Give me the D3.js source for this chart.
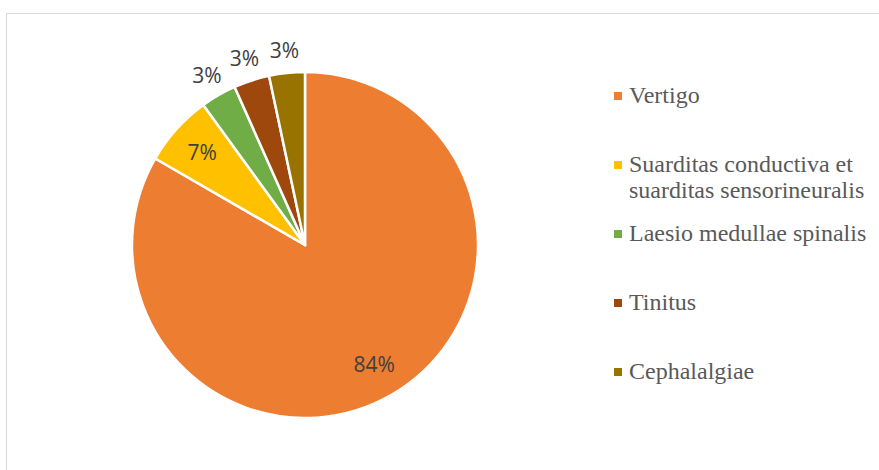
<!DOCTYPE html>
<html>
<head>
<meta charset="utf-8">
<script src="https://cdn.jsdelivr.net/npm/d3@7"></script>
<style>
  body { margin: 0; background: #fff; }
  svg { display: block; }
</style>
</head>
<body>
<svg id="chart" width="879" height="470"></svg>
<script>
// data
const categories = [
  'Vertigo',
  'Suarditas conductiva et suarditas sensorineuralis',
  'Laesio medullae spinalis',
  'Tinitus',
  'Cephalalgiae'
];
const values = [25, 2, 1, 1, 1];
const pctLabels = ['84%', '7%', '3%', '3%', '3%'];
const legendLines = [
  ['Vertigo'],
  ['Suarditas conductiva et', 'suarditas sensorineuralis'],
  ['Laesio medullae spinalis'],
  ['Tinitus'],
  ['Cephalalgiae']
];
const colors = ['#ED7D31', '#FFC000', '#70AD47', '#9E480E', '#997300'];

const width = 879, height = 470;
const cx = 305, cy = 245, radius = 173;

const svg = d3.select('#chart');

// chart frame
svg.append('rect')
    .attr('x', 6.5)
    .attr('y', 13.5)
    .attr('width', width + 20)
    .attr('height', height + 20)
    .attr('fill', 'none')
    .attr('stroke', '#d9d9d9')
    .attr('stroke-width', 1);

const data = categories.map((c, i) => ({ name: c, value: values[i], label: pctLabels[i], color: colors[i] }));

const pie = d3.pie().sort(null).value((d) => d.value);
const arcs = pie(data);

const arc = d3.arc().innerRadius(0).outerRadius(radius);
const insideArc = d3.arc().innerRadius(radius * 0.8).outerRadius(radius * 0.8);
const outsideArc = d3.arc().innerRadius(radius + 23).outerRadius(radius + 23);

const g = svg.append('g')
    .attr('transform', `translate(${cx},${cy})`);

g.selectAll('path.slice')
    .data(arcs)
    .enter()
    .append('path')
      .attr('class', 'slice')
      .attr('d', arc)
      .attr('fill', (d) => d.data.color)
      .attr('stroke', '#fff')
      .attr('stroke-width', 2.5)
      .attr('stroke-linejoin', 'round');

// percentage labels: inside for the big slices, outside for the small ones
g.selectAll('text.pct')
    .data(arcs)
    .enter()
    .append('text')
      .attr('class', 'pct')
      .attr('transform', (d) => {
        const big = (d.endAngle - d.startAngle) > 0.3;
        const p = big ? insideArc.centroid(d) : outsideArc.centroid(d);
        return `translate(${p[0]},${p[1]})`;
      })
      .attr('text-anchor', 'middle')
      .attr('dy', '0.36em')
      .style('font-family', "'Open Sans', sans-serif")
      .style('font-size', '21px')
      .style('fill', '#404040')
      .text((d) => d.data.label);

// legend
const legend = svg.append('g')
    .attr('transform', 'translate(614,96)');

const items = legend.selectAll('g.item')
    .data(data)
    .enter()
    .append('g')
      .attr('class', 'item')
      .attr('transform', (d, i) => `translate(0,${i * 69})`);

items.append('rect')
    .attr('x', 0)
    .attr('y', -4)
    .attr('width', 8)
    .attr('height', 8)
    .attr('fill', (d) => d.color);

items.append('text')
    .attr('x', 15)
    .attr('y', 0)
    .style('font-family', "'Liberation Serif', 'Times New Roman', serif")
    .style('font-size', '24px')
    .style('fill', '#595959')
    .each(function(d, i) {
      const t = d3.select(this);
      legendLines[i].forEach((line, j) => {
        t.append('tspan')
          .attr('x', 15)
          .attr('dy', j === 0 ? 7 : 26)
          .text(line);
      });
    });
</script>
</body>
</html>
